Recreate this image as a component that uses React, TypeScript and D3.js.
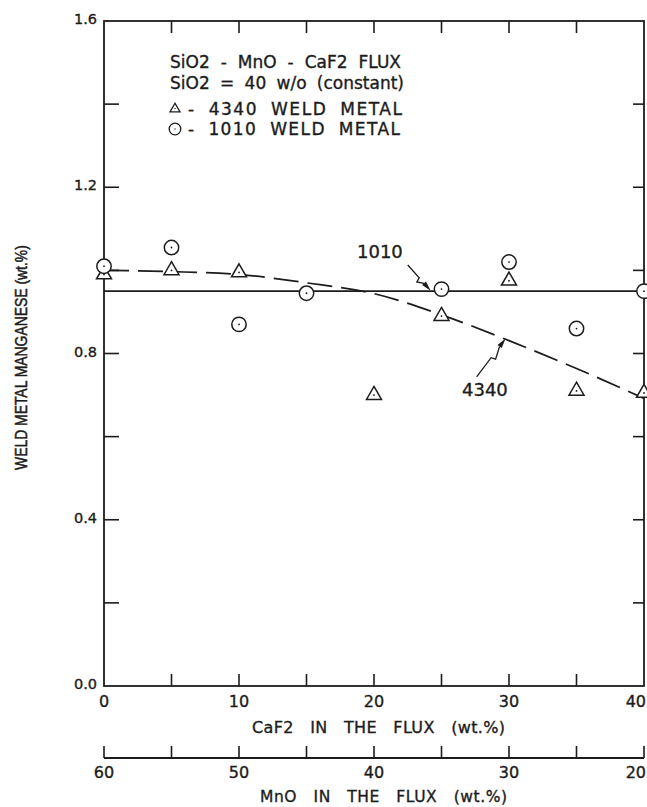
import React, { useLayoutEffect, useRef, useState } from "react";
import * as d3 from "d3";

const W = 647;
const H = 807;

const caf2Ticks = [0, 5, 10, 15, 20, 25, 30, 35, 40];
const caf2Labels = [0, 10, 20, 30, 40];
const mnoTicks = [60, 55, 50, 45, 40, 35, 30, 25, 20];
const mnoLabels = [60, 50, 40, 30, 20];
const yTicks = [0, 0.2, 0.4, 0.6, 0.8, 1.0, 1.2, 1.4, 1.6];
const yLabels = [0, 0.4, 0.8, 1.2, 1.6];

const x1010 = [0, 5, 10, 15, 25, 30, 35, 40];
const mn1010 = [1.01, 1.055, 0.87, 0.945, 0.955, 1.02, 0.86, 0.95];
const x4340 = [0, 5, 10, 20, 25, 30, 35, 40];
const mn4340 = [0.99, 1.0, 0.995, 0.7, 0.89, 0.975, 0.71, 0.705];

const fit1010X = [0, 40];
const fit1010Y = [0.95, 0.95];
const fit4340X = [0, 5, 10, 15, 20, 25, 30, 35, 40];
const fit4340Y = [1.0, 0.997, 0.99, 0.97, 0.944, 0.893, 0.831, 0.764, 0.692];

const legendTitle = ["SiO2 - MnO - CaF2 FLUX", "SiO2 = 40 w/o (constant)"];
const legendSeries = ["- 4340 WELD METAL", "- 1010 WELD METAL"];

const INK = "#1c1c1c";
const SANS = "'Liberation Sans', Arial, Helvetica, sans-serif";
const WIDE = "'DejaVu Sans', Verdana, sans-serif";

type FitProps = {
  x: number;
  y: number;
  target: number;
  text: string;
  size: number;
  family: string;
  rotate?: number;
  maxWs?: number;
  weight?: number;
};

function FitText({ x, y, target, text, size, family, rotate = 0, maxWs = 30, weight = 0.35 }: FitProps) {
  const ref = useRef<SVGTextElement>(null);
  const [adj, setAdj] = useState({ ws: 0, ls: 0, sx: 1 });
  useLayoutEffect(() => {
    const el = ref.current;
    if (!el) return;
    const nat = el.getComputedTextLength();
    const spaces = (text.match(/ /g) || []).length;
    const extra = target - nat;
    if (extra < 0) {
      setAdj({ ws: 0, ls: 0, sx: target / nat });
    } else {
      const ws = spaces ? Math.min(extra / spaces, maxWs) : 0;
      const rem = extra - ws * spaces;
      const ls = rem / Math.max(1, text.length - 1);
      setAdj({ ws, ls, sx: 1 });
    }
  }, [text, target]);
  return (
    <text
      ref={ref}
      transform={`translate(${x},${y}) rotate(${rotate}) scale(${adj.sx},1)`}
      fontSize={size}
      fontFamily={family}
      fill={INK}
      stroke={INK}
      strokeWidth={weight}
      style={{ wordSpacing: `${adj.ws}px`, letterSpacing: `${adj.ls}px`, whiteSpace: "pre" }}
    >
      {text}
    </text>
  );
}

export default function App() {
  const x = d3.scaleLinear().domain([0, 40]).range([104, 644]);
  const xm = d3.scaleLinear().domain([60, 20]).range([104, 644]);
  const y = d3.scaleLinear().domain([0, 1.6]).range([686, 21]);
  const axis2Y = 758;

  const line = d3
    .line<[number, number]>()
    .x((d) => x(d[0]))
    .y((d) => y(d[1]))
    .curve(d3.curveMonotoneX);

  const solid = line(fit1010X.map((v, i) => [v, fit1010Y[i]]));
  const dashed = line(fit4340X.map((v, i) => [v, fit4340Y[i]]));

  const tri = (cx: number, cy: number, s: number) => {
    const h = s * 0.866;
    return `M${cx},${cy - (2 * h) / 3} L${cx + s / 2},${cy + h / 3} L${cx - s / 2},${cy + h / 3} Z`;
  };

  const zigArrow = (tx: number, ty: number, hx: number, hy: number) => {
    const dx = hx - tx;
    const dy = hy - ty;
    const len = Math.hypot(dx, dy);
    const ux = dx / len;
    const uy = dy / len;
    const px = -uy;
    const py = ux;
    const p1 = [tx + dx * 0.5, ty + dy * 0.5];
    const p2 = [p1[0] + px * 4.5 + ux * 1.5, p1[1] + py * 4.5 + uy * 1.5];
    const bx = hx - ux * 10;
    const by = hy - uy * 10;
    const head = `M${hx},${hy} L${bx + px * 2.6},${by + py * 2.6} L${bx - px * 2.6},${by - py * 2.6} Z`;
    const shaft = `M${tx},${ty} L${p1[0]},${p1[1]} L${p2[0]},${p2[1]} L${bx},${by}`;
    return { head, shaft };
  };

  const a1010 = zigArrow(x(22.5), y(1.013), x(24.2), y(0.951));
  const a4340 = zigArrow(x(27.6), y(0.744), x(29.75), y(0.836));

  const textStroke = { stroke: INK, strokeWidth: 0.35 } as const;

  return (
    <svg
      width={W}
      height={H}
      style={{ position: "absolute", left: 0, top: 0, background: "#fff" }}
    >
      <rect x={0} y={0} width={W} height={H} fill="#fff" />
      {/* frame */}
      <rect
        x={x(0)}
        y={y(1.6)}
        width={x(40) - x(0)}
        height={y(0) - y(1.6)}
        fill="none"
        stroke={INK}
        strokeWidth={1.8}
      />
      {/* bottom & top ticks */}
      {caf2Ticks.slice(1, -1).map((t) => (
        <g key={"xt" + t}>
          <line x1={x(t)} x2={x(t)} y1={y(0)} y2={y(0) - 12} stroke={INK} strokeWidth={1.6} />
          <line x1={x(t)} x2={x(t)} y1={y(1.6)} y2={y(1.6) + 12} stroke={INK} strokeWidth={1.6} />
        </g>
      ))}
      {caf2Labels.map((t, i) => (
        <text
          key={"xl" + t}
          x={i === caf2Labels.length - 1 ? W - 1 : x(t)}
          y={y(0) + 21}
          fontSize={16}
          fontFamily={WIDE}
          textAnchor={i === caf2Labels.length - 1 ? "end" : "middle"}
          fill={INK}
          {...textStroke}
        >
          {t}
        </text>
      ))}
      {/* left & right ticks */}
      {yTicks.slice(1, -1).map((t) => (
        <g key={"yt" + t}>
          <line x1={x(0)} x2={x(0) + 15} y1={y(t)} y2={y(t)} stroke={INK} strokeWidth={1.6} />
          <line x1={x(40)} x2={x(40) - 11} y1={y(t)} y2={y(t)} stroke={INK} strokeWidth={1.6} />
        </g>
      ))}
      {yLabels.map((t) => (
        <text
          key={"yl" + t}
          x={x(0) - 7}
          y={y(t) + 3}
          fontSize={14.5}
          fontFamily={WIDE}
          textAnchor="end"
          fill={INK}
          {...textStroke}
        >
          {t.toFixed(1)}
        </text>
      ))}
      <FitText x={252} y={733} target={253} text="CaF2 IN THE FLUX (wt.%)" size={16} family={WIDE} maxWs={11} />
      {/* second axis MnO */}
      <line x1={xm(60)} x2={xm(20)} y1={axis2Y} y2={axis2Y} stroke={INK} strokeWidth={1.8} />
      {mnoTicks.map((t) => (
        <line key={"mt" + t} x1={xm(t)} x2={xm(t)} y1={axis2Y} y2={axis2Y - 12} stroke={INK} strokeWidth={1.6} />
      ))}
      {mnoLabels.map((t, i) => (
        <text
          key={"ml" + t}
          x={i === mnoLabels.length - 1 ? W - 1 : xm(t)}
          y={axis2Y + 20}
          fontSize={16}
          fontFamily={WIDE}
          textAnchor={i === mnoLabels.length - 1 ? "end" : "middle"}
          fill={INK}
          {...textStroke}
        >
          {t}
        </text>
      ))}
      <FitText x={260} y={802} target={247} text="MnO IN THE FLUX (wt.%)" size={15.5} family={WIDE} maxWs={11} />
      {/* y title */}
      <FitText
        x={27}
        y={470}
        rotate={-90}
        target={225}
        text="WELD METAL MANGANESE (wt.%)"
        size={16}
        family={SANS}
        weight={0.5}
      />
      {/* fitted lines */}
      <path d={solid || ""} fill="none" stroke={INK} strokeWidth={1.7} />
      <path d={dashed || ""} fill="none" stroke={INK} strokeWidth={1.7} strokeDasharray="25 9" />
      {/* markers */}
      {x4340.map((v, i) => (
        <g key={"t" + i}>
          <path d={tri(x(v), y(mn4340[i]), 15)} fill="#fff" stroke={INK} strokeWidth={1.5} />
          <circle cx={x(v)} cy={y(mn4340[i])} r={0.9} fill={INK} />
        </g>
      ))}
      {x1010.map((v, i) => (
        <g key={"c" + i}>
          <circle cx={x(v)} cy={y(mn1010[i])} r={7.2} fill="#fff" stroke={INK} strokeWidth={1.5} />
          <circle cx={x(v)} cy={y(mn1010[i])} r={0.9} fill={INK} />
        </g>
      ))}
      {/* annotations */}
      <text x={357} y={258} fontSize={18} fontFamily={WIDE} fill={INK} {...textStroke}>
        1010
      </text>
      <path d={a1010.shaft} fill="none" stroke={INK} strokeWidth={1.3} />
      <path d={a1010.head} fill={INK} />
      <text x={462} y={396} fontSize={18} fontFamily={WIDE} fill={INK} {...textStroke}>
        4340
      </text>
      <path d={a4340.shaft} fill="none" stroke={INK} strokeWidth={1.3} />
      <path d={a4340.head} fill={INK} />
      {/* legend */}
      <FitText x={170} y={68} target={231} text={legendTitle[0]} size={17} family={WIDE} maxWs={6} />
      <FitText x={170} y={89} target={234} text={legendTitle[1]} size={17} family={WIDE} maxWs={6} />
      <path d={tri(175, 109, 10)} fill="none" stroke={INK} strokeWidth={1.3} />
      <circle cx={175} cy={108.5} r={0.7} fill={INK} />
      <FitText x={188} y={114.5} target={214} text={legendSeries[0]} size={17} family={WIDE} maxWs={6} />
      <circle cx={175} cy={129} r={5.8} fill="none" stroke={INK} strokeWidth={1.3} />
      <circle cx={175} cy={129} r={0.7} fill={INK} />
      <FitText x={188} y={135} target={212} text={legendSeries[1]} size={17} family={WIDE} maxWs={6} />
    </svg>
  );
}
